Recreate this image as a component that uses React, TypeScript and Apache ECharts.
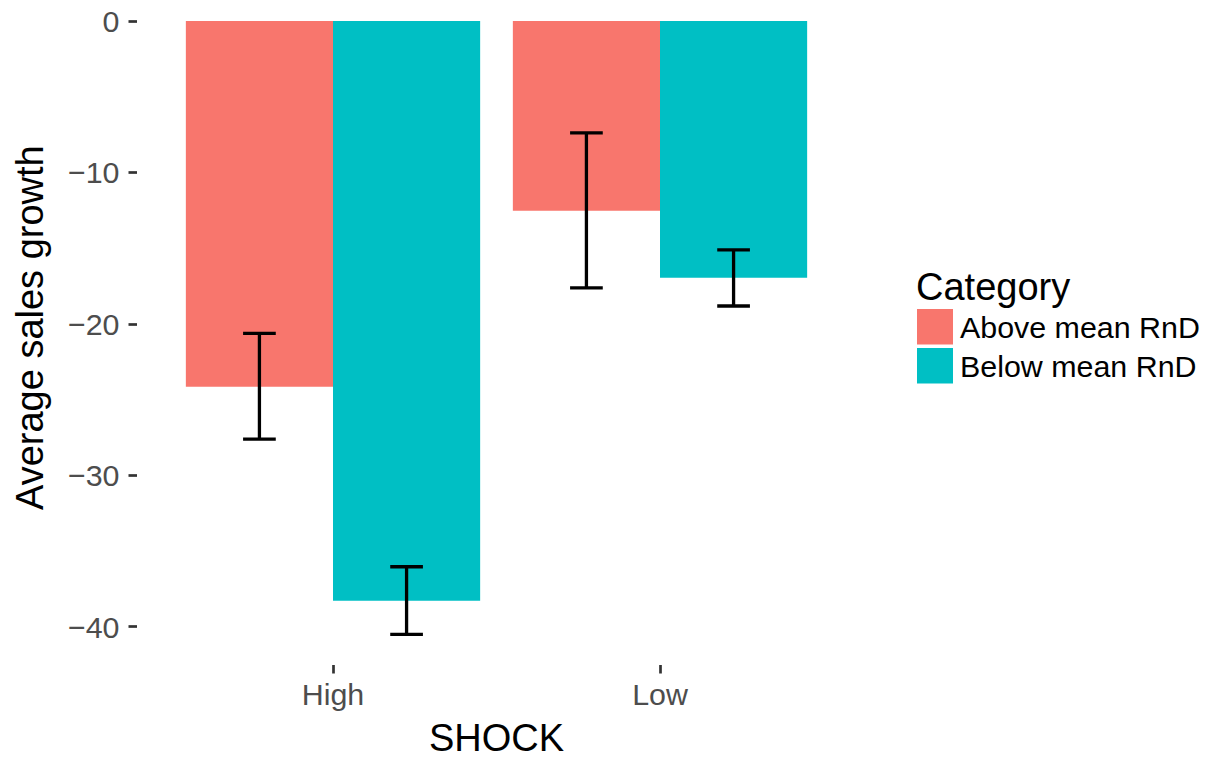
import React, { useEffect, useRef } from "react";
import * as echarts from "echarts";

const categories = ["High", "Low"];
const groupNames = ["Above mean RnD", "Below mean RnD"];
const aboveMean = [-24.15, -12.53];
const belowMean = [-38.29, -16.95];
const aboveErrUpper = [-20.63, -7.38];
const aboveErrLower = [-27.61, -17.62];
const belowErrUpper = [-36.04, -15.11];
const belowErrLower = [-40.51, -18.82];
const yTicks = [0, -10, -20, -30, -40];
const colors = ["#F8766D", "#00BFC4"];

const FONT = '"Liberation Sans", Arial, Helvetica, sans-serif';

function errData(upper: number[], lower: number[]) {
  return categories.map((_, i) => [i, upper[i], lower[i]]);
}

function makeErrRender(dir: number) {
  return (params: any, api: any) => {
    const x = api.value(0);
    const top = api.coord([x, api.value(1)]);
    const bot = api.coord([x, api.value(2)]);
    const band = api.size([1, 0])[0];
    const cx = top[0] + dir * band * 0.9 / 4;
    const half = band * 0.05;
    const style = { stroke: "#000", lineWidth: 3.3 };
    return {
      type: "group",
      children: [
        { type: "line", shape: { x1: cx, y1: top[1], x2: cx, y2: bot[1] }, style },
        { type: "line", shape: { x1: cx - half, y1: top[1], x2: cx + half, y2: top[1] }, style },
        { type: "line", shape: { x1: cx - half, y1: bot[1], x2: cx + half, y2: bot[1] }, style },
      ],
    };
  };
}

export default function App() {
  const ref = useRef<HTMLDivElement>(null);
  useEffect(() => {
    if (!ref.current) return;
    const chart = echarts.init(ref.current, null, { renderer: "svg" });
    const option: any = {
      animation: false,
      backgroundColor: "#fff",
      textStyle: { fontFamily: FONT },
      title: {
        text: "Category",
        left: 916,
        top: 268,
        padding: 0,
        textStyle: { fontFamily: FONT, fontSize: 38, fontWeight: "normal", color: "#000" },
      },
      legend: {
        data: groupNames,
        orient: "vertical",
        left: 917,
        top: 309,
        padding: 0,
        itemWidth: 36,
        itemHeight: 35.5,
        itemGap: 3.5,
        icon: "rect",
        selectedMode: false,
        textStyle: { fontFamily: FONT, fontSize: 30.4, color: "#000", padding: [0, 0, 0, 2] },
      },
      grid: {
        left: 169.5,
        top: -9.7,
        width: 654,
        height: 674.7,
        containLabel: false,
        outerBoundsMode: "none",
      },
      xAxis: {
        type: "category",
        data: categories,
        name: "SHOCK",
        nameLocation: "middle",
        nameGap: 58,
        nameTextStyle: { fontFamily: FONT, fontSize: 38, lineHeight: 30, color: "#000" },
        axisLine: { show: true, onZero: false, lineStyle: { color: "rgba(0,0,0,0)", width: 0 } },
        axisTick: {
          show: true,
          interval: 0,
          alignWithLabel: true,
          length: 8.5,
          lineStyle: { color: "#333", width: 2.7 },
        },
        axisLabel: { fontFamily: FONT, fontSize: 30.4, color: "#4D4D4D", margin: 14 },
        splitLine: { show: false },
      },
      yAxis: {
        type: "value",
        min: -42.53,
        max: 2.03,
        offset: 32.5,
        name: "Average sales growth",
        nameLocation: "middle",
        nameGap: 88,
        nameTextStyle: { fontFamily: FONT, fontSize: 38, color: "#000" },
        axisLine: { show: false },
        splitLine: { show: false },
        axisTick: { show: true, customValues: yTicks, length: 8.5, lineStyle: { color: "#333", width: 2.7 } },
        axisLabel: {
          customValues: yTicks,
          fontFamily: FONT,
          fontSize: 30.4,
          color: "#4D4D4D",
          margin: 17.5,
          formatter: (v: number) => (v < 0 ? "\u2212" + Math.abs(v) : String(v)),
        },
      },
      series: [
        {
          name: groupNames[0],
          type: "bar",
          data: aboveMean,
          barGap: "0%",
          barCategoryGap: "10%",
          itemStyle: { color: colors[0] },
          silent: true,
        },
        {
          name: groupNames[1],
          type: "bar",
          data: belowMean,
          barGap: "0%",
          barCategoryGap: "10%",
          itemStyle: { color: colors[1] },
          silent: true,
        },
        {
          name: "err-above",
          type: "custom",
          data: errData(aboveErrUpper, aboveErrLower),
          encode: { x: 0, y: [1, 2] },
          renderItem: makeErrRender(-1),
          clip: false,
          z: 10,
          silent: true,
        },
        {
          name: "err-below",
          type: "custom",
          data: errData(belowErrUpper, belowErrLower),
          encode: { x: 0, y: [1, 2] },
          renderItem: makeErrRender(1),
          clip: false,
          z: 10,
          silent: true,
        },
      ],
    };
    chart.setOption(option);
    return () => chart.dispose();
  }, []);
  return (
    <div
      ref={ref}
      style={{ position: "fixed", left: 0, top: 0, width: 1213, height: 757, background: "#fff" }}
    />
  );
}
